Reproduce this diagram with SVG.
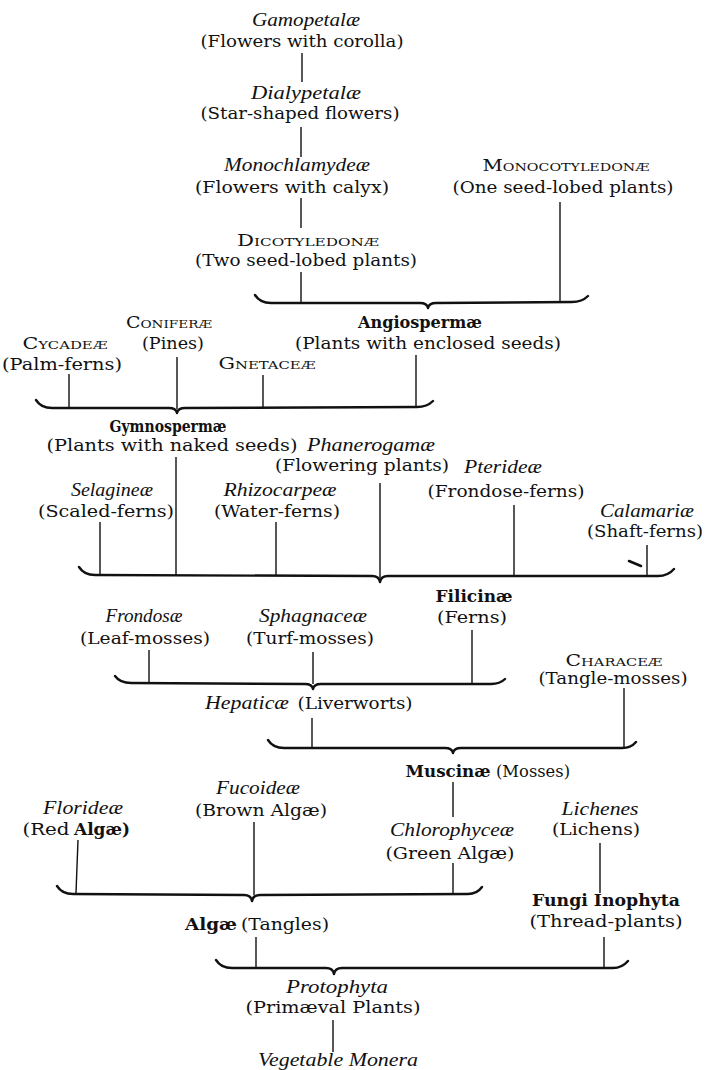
<svg xmlns="http://www.w3.org/2000/svg" width="707" height="1070" viewBox="0 0 707 1070">
<style>
text{fill:#111;text-anchor:middle}
.r{font-family:"DejaVu Serif","Liberation Serif",serif;font-size:16px}
.i{font-family:"Liberation Serif","DejaVu Serif",serif;font-style:italic;font-size:18px}
.b{font-family:"DejaVu Serif","Liberation Serif",serif;font-weight:bold;font-size:16px}
.sc{font-family:"DejaVu Serif","Liberation Serif",serif;font-size:16px}
.sc .s{font-size:11.5px}
.ln{stroke:#111;stroke-width:1.4;fill:none}
.br{stroke:#111;stroke-width:2.4;fill:none;stroke-linecap:round;stroke-linejoin:round}
</style>
<rect width="707" height="1070" fill="#fff"/>
<g id="connectors">
<line class="ln" x1="302" y1="53" x2="302" y2="82"/>
<line class="ln" x1="301" y1="127" x2="301" y2="157"/>
<line class="ln" x1="301" y1="198" x2="301" y2="228"/>
<line class="ln" x1="301" y1="272" x2="301" y2="303"/>
<line class="ln" x1="560" y1="202" x2="560" y2="302"/>
<path class="br" d="M255,295 Q260,303 271,303 L420,303 Q427,303 428,308 Q429,303 436,303 L572,302 Q582,302 588,296"/>
<line class="ln" x1="69" y1="374" x2="69" y2="407"/>
<line class="ln" x1="177" y1="357" x2="177" y2="409"/>
<line class="ln" x1="263" y1="375" x2="263" y2="407"/>
<line class="ln" x1="416" y1="355" x2="416" y2="407"/>
<path class="br" d="M36,400 Q41,408 52,408 L169,408 Q176,408 177,413 Q178,408 185,408 L417,407 Q427,407 433,401"/>
<line class="ln" x1="176" y1="457" x2="176" y2="575"/>
<line class="ln" x1="100" y1="522" x2="100" y2="575"/>
<line class="ln" x1="276" y1="522" x2="276" y2="576"/>
<line class="ln" x1="380" y1="483" x2="380" y2="578"/>
<line class="ln" x1="514" y1="505" x2="514" y2="576"/>
<line class="ln" x1="647" y1="545" x2="647" y2="576"/>
<line x1="629" y1="561" x2="641" y2="566" stroke="#111" stroke-width="2.6" stroke-linecap="round"/>
<path class="br" d="M79,567 Q84,575 95,575 L372,576 Q379,576 380,582 Q381,576 388,576 L658,576 Q668,576 674,569"/>
<line class="ln" x1="149" y1="650" x2="149" y2="683"/>
<line class="ln" x1="313" y1="652" x2="313" y2="684"/>
<line class="ln" x1="472" y1="630" x2="472" y2="683"/>
<path class="br" d="M115,676 Q120,683 131,683 L305,684 Q312,684 313,689 Q314,684 321,684 L491,684 Q500,684 505,679"/>
<line class="ln" x1="624" y1="688" x2="624" y2="748"/>
<line class="ln" x1="312" y1="718" x2="312" y2="748"/>
<path class="br" d="M268,740 Q273,748 284,748 L445,748 Q452,748 453,753 Q454,748 461,748 L622,748 Q631,748 636,742"/>
<line class="ln" x1="453" y1="782" x2="453" y2="817"/>
<line class="ln" x1="78" y1="840" x2="76" y2="893"/>
<line class="ln" x1="254" y1="822" x2="254" y2="895"/>
<line class="ln" x1="453" y1="863" x2="453" y2="894"/>
<path class="br" d="M57,886 Q62,894 73,894 L244,895 Q251,895 252,901 Q253,895 260,895 L468,894 Q477,894 482,887"/>
<line class="ln" x1="600" y1="843" x2="600" y2="893"/>
<line class="ln" x1="604" y1="937" x2="604" y2="968"/>
<line class="ln" x1="256" y1="937" x2="256" y2="968"/>
<path class="br" d="M216,960 Q221,968 232,968 L326,968 Q333,968 334,974 Q335,968 342,968 L613,968 Q622,968 628,961"/>
<line class="ln" x1="333" y1="1020" x2="333" y2="1052"/>
</g>
<g id="gamopetalae"><text class="i" x="306" y="26" textLength="108" lengthAdjust="spacingAndGlyphs">Gamopetalæ</text><text class="r" x="302" y="47" textLength="203" lengthAdjust="spacingAndGlyphs">(Flowers with corolla)</text></g>
<g id="dialypetalae"><text class="i" x="306" y="99" textLength="110" lengthAdjust="spacingAndGlyphs">Dialypetalæ</text><text class="r" x="300" y="119" textLength="199" lengthAdjust="spacingAndGlyphs">(Star-shaped flowers)</text></g>
<g id="monochlamydeae"><text class="i" x="297" y="171" textLength="146" lengthAdjust="spacingAndGlyphs">Monochlamydeæ</text><text class="r" x="292" y="193" textLength="194" lengthAdjust="spacingAndGlyphs">(Flowers with calyx)</text></g>
<g id="monocotyledonae"><text class="sc" x="566" y="171" textLength="167" lengthAdjust="spacingAndGlyphs">M<tspan class="s">ONOCOTYLEDONÆ</tspan></text><text class="r" x="563" y="193" textLength="221" lengthAdjust="spacingAndGlyphs">(One seed-lobed plants)</text></g>
<g id="dicotyledonae"><text class="sc" x="308" y="246" textLength="142" lengthAdjust="spacingAndGlyphs">D<tspan class="s">ICOTYLEDONÆ</tspan></text><text class="r" x="306" y="266" textLength="222" lengthAdjust="spacingAndGlyphs">(Two seed-lobed plants)</text></g>
<g id="coniferae"><text class="sc" x="169" y="328" textLength="86" lengthAdjust="spacingAndGlyphs">C<tspan class="s">ONIFERÆ</tspan></text><text class="r" x="173" y="349" textLength="62" lengthAdjust="spacingAndGlyphs">(Pines)</text></g>
<g id="angiospermae"><text class="b" x="420" y="328" textLength="124" lengthAdjust="spacingAndGlyphs">Angiospermæ</text><text class="r" x="428" y="349" textLength="266" lengthAdjust="spacingAndGlyphs">(Plants with enclosed seeds)</text></g>
<g id="cycadeae"><text class="sc" x="65" y="349" textLength="85" lengthAdjust="spacingAndGlyphs">C<tspan class="s">YCADEÆ</tspan></text><text class="r" x="62" y="370" textLength="120" lengthAdjust="spacingAndGlyphs">(Palm-ferns)</text></g>
<g id="gnetaceae"><text class="sc" x="267" y="369" textLength="97" lengthAdjust="spacingAndGlyphs">G<tspan class="s">NETACEÆ</tspan></text></g>
<g id="gymnospermae"><text class="b" x="168" y="432" textLength="117" lengthAdjust="spacingAndGlyphs">Gymnospermæ</text><text class="r" x="172" y="451" textLength="251" lengthAdjust="spacingAndGlyphs">(Plants with naked seeds)</text></g>
<g id="phanerogamae"><text class="i" x="371" y="451" textLength="128" lengthAdjust="spacingAndGlyphs">Phanerogamæ</text><text class="r" x="362" y="471" textLength="174" lengthAdjust="spacingAndGlyphs">(Flowering plants)</text></g>
<g id="pterideae"><text class="i" x="503" y="473" textLength="78" lengthAdjust="spacingAndGlyphs">Pterideæ</text><text class="r" x="506" y="497" textLength="157" lengthAdjust="spacingAndGlyphs">(Frondose-ferns)</text></g>
<g id="selagineae"><text class="i" x="112" y="496" textLength="82" lengthAdjust="spacingAndGlyphs">Selagineæ</text><text class="r" x="106" y="517" textLength="136" lengthAdjust="spacingAndGlyphs">(Scaled-ferns)</text></g>
<g id="rhizocarpeae"><text class="i" x="280" y="496" textLength="113" lengthAdjust="spacingAndGlyphs">Rhizocarpeæ</text><text class="r" x="277" y="517" textLength="126" lengthAdjust="spacingAndGlyphs">(Water-ferns)</text></g>
<g id="calamariae"><text class="i" x="647" y="517" textLength="94" lengthAdjust="spacingAndGlyphs">Calamariæ</text><text class="r" x="645" y="537" textLength="116" lengthAdjust="spacingAndGlyphs">(Shaft-ferns)</text></g>
<g id="filicinae"><text class="b" x="474" y="602" textLength="77" lengthAdjust="spacingAndGlyphs">Filicinæ</text><text class="r" x="472" y="623" textLength="70" lengthAdjust="spacingAndGlyphs">(Ferns)</text></g>
<g id="frondosae"><text class="i" x="144" y="622" textLength="77" lengthAdjust="spacingAndGlyphs">Frondosæ</text><text class="r" x="145" y="644" textLength="130" lengthAdjust="spacingAndGlyphs">(Leaf-mosses)</text></g>
<g id="sphagnaceae"><text class="i" x="313" y="622" textLength="108" lengthAdjust="spacingAndGlyphs">Sphagnaceæ</text><text class="r" x="310" y="644" textLength="128" lengthAdjust="spacingAndGlyphs">(Turf-mosses)</text></g>
<g id="characeae"><text class="sc" x="614" y="666" textLength="97" lengthAdjust="spacingAndGlyphs">C<tspan class="s">HARACEÆ</tspan></text><text class="r" x="613" y="684" textLength="149" lengthAdjust="spacingAndGlyphs">(Tangle-mosses)</text></g>
<g id="hepaticae"><text class="i" x="247" y="709" textLength="84" lengthAdjust="spacingAndGlyphs">Hepaticæ</text><text class="r" x="355" y="709" textLength="115" lengthAdjust="spacingAndGlyphs">(Liverworts)</text></g>
<g id="muscinae"><text class="b" x="448" y="777" textLength="85" lengthAdjust="spacingAndGlyphs">Muscinæ</text><text class="r" x="533" y="777" textLength="74" lengthAdjust="spacingAndGlyphs">(Mosses)</text></g>
<g id="fucoideae"><text class="i" x="258" y="794" textLength="84" lengthAdjust="spacingAndGlyphs">Fucoideæ</text><text class="r" x="261" y="816" textLength="132" lengthAdjust="spacingAndGlyphs">(Brown Algæ)</text></g>
<g id="florideae"><text class="i" x="83" y="814" textLength="80" lengthAdjust="spacingAndGlyphs">Florideæ</text><text class="r" x="46" y="835" textLength="47" lengthAdjust="spacingAndGlyphs">(Red</text><text class="b" x="102" y="835" textLength="56" lengthAdjust="spacingAndGlyphs">Algæ)</text></g>
<g id="lichenes"><text class="i" x="600" y="815" textLength="77" lengthAdjust="spacingAndGlyphs">Lichenes</text><text class="r" x="596" y="835" textLength="88" lengthAdjust="spacingAndGlyphs">(Lichens)</text></g>
<g id="chlorophyceae"><text class="i" x="452" y="836" textLength="124" lengthAdjust="spacingAndGlyphs">Chlorophyceæ</text><text class="r" x="450" y="859" textLength="129" lengthAdjust="spacingAndGlyphs">(Green Algæ)</text></g>
<g id="fungi"><text class="b" x="606" y="906" textLength="148" lengthAdjust="spacingAndGlyphs">Fungi Inophyta</text><text class="r" x="606" y="927" textLength="153" lengthAdjust="spacingAndGlyphs">(Thread-plants)</text></g>
<g id="algae"><text class="b" x="211" y="930" textLength="52" lengthAdjust="spacingAndGlyphs">Algæ</text><text class="r" x="285" y="930" textLength="88" lengthAdjust="spacingAndGlyphs">(Tangles)</text></g>
<g id="protophyta"><text class="i" x="337" y="993" textLength="102" lengthAdjust="spacingAndGlyphs">Protophyta</text><text class="r" x="333" y="1013" textLength="175" lengthAdjust="spacingAndGlyphs">(Primæval Plants)</text></g>
<g id="monera"><text class="i" x="338" y="1066" textLength="160" lengthAdjust="spacingAndGlyphs">Vegetable Monera</text></g>
</svg>
